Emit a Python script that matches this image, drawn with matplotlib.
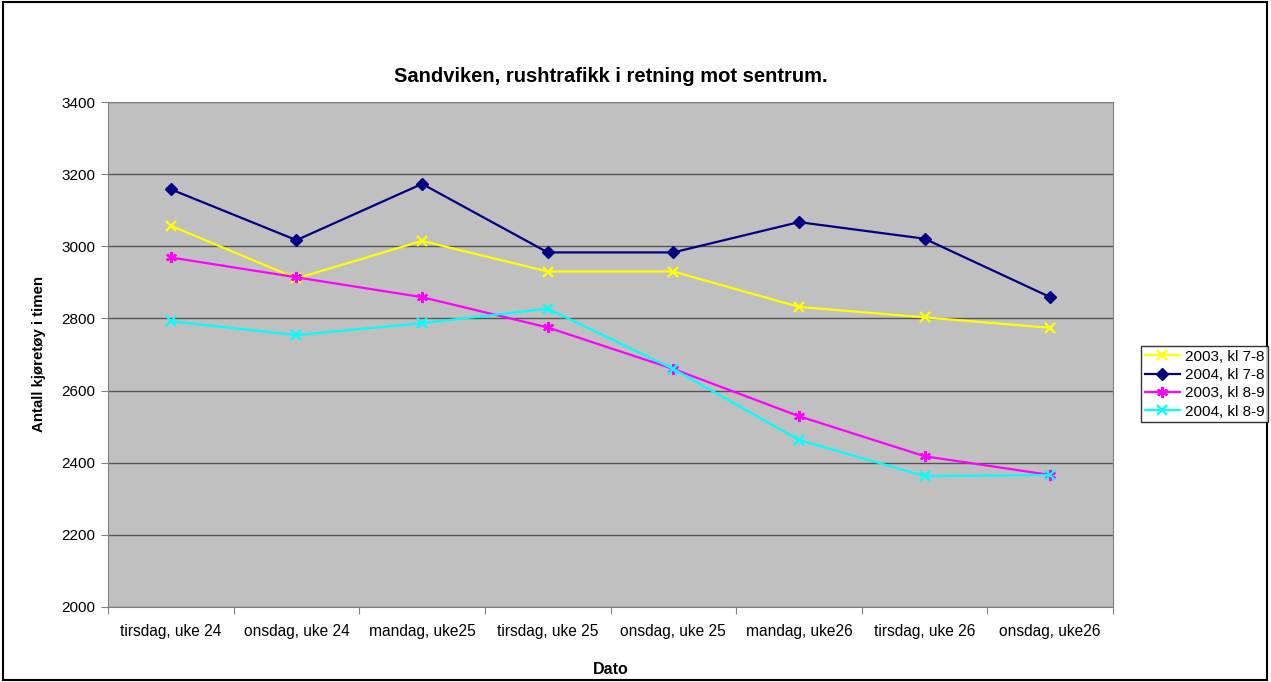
import matplotlib
matplotlib.use("Agg")
import matplotlib.pyplot as plt
from matplotlib.patches import Rectangle
import numpy as np

plt.rcParams['font.family'] = ['Liberation Sans', 'DejaVu Sans']

days = ['tirsdag, uke 24', 'onsdag, uke 24', 'mandag, uke25', 'tirsdag, uke 25',
        'onsdag, uke 25', 'mandag, uke26', 'tirsdag, uke 26', 'onsdag, uke26']
y2003_78 = [3057, 2911, 3015, 2930, 2930, 2832, 2803, 2774]
y2004_78 = [3158, 3017, 3173, 2983, 2983, 3067, 3021, 2859]
y2003_89 = [2969, 2914, 2859, 2775, 2660, 2529, 2418, 2366]
y2004_89 = [2792, 2754, 2787, 2827, 2660, 2463, 2363, 2366]

fig = plt.figure(figsize=(12.71, 6.82), dpi=100)
ax = fig.add_axes([108 / 1271, 1 - 607 / 682, 1005 / 1271, 505 / 682])
ax.set_facecolor('#C0C0C0')

x = np.arange(len(days))
ax.plot(x, y2003_78, color='#FFFF00', lw=1.6, marker='x', ms=7, mew=1.6, label='2003, kl 7-8')
ax.plot(x, y2004_78, color='#000080', lw=1.6, marker='D', ms=6, label='2004, kl 7-8')
ax.plot(x, y2003_89, color='#FF00FF', lw=1.6, marker=(6, 2, 0), ms=8, mew=1.6, label='2003, kl 8-9')
ax.plot(x, y2004_89, color='#00FFFF', lw=1.6, marker='x', ms=7, mew=1.6, label='2004, kl 8-9')

ax.set_xlim(-0.5, len(days) - 0.5)
ax.set_ylim(2000, 3400)
ax.set_yticks(np.arange(2000, 3401, 200))
ax.yaxis.grid(True, color='#555555', lw=1)
ax.set_axisbelow(True)

# tick marks between categories, labels centred on categories
ax.set_xticks(np.arange(-0.5, len(days), 1))
ax.set_xticklabels([])
ax.set_xticks(x, minor=True)
ax.set_xticklabels(days, minor=True, fontsize=11.2)
ax.tick_params(axis='x', which='minor', length=0, pad=12)
ax.tick_params(axis='x', which='major', length=5, color='#808080')
ax.tick_params(axis='y', length=5, color='#808080', labelsize=11, pad=4)

for side in ax.spines:
    ax.spines[side].set_color('#808080')

ax.set_xlabel('Dato', fontsize=11.5, fontweight='bold', labelpad=17)
ax.set_ylabel('Antall kjøretøy i timen', fontsize=10.8, fontweight='bold', labelpad=11)
fig.text(0.5 * (108 + 1113) / 1271, 1 - 77 / 682, 'Sandviken, rushtrafikk i retning mot sentrum.',
         ha='center', va='center', fontsize=14.5, fontweight='bold')

leg = fig.legend(loc='upper left', bbox_to_anchor=(1141 / 1271, 1 - 346 / 682), fontsize=11,
                 frameon=True, fancybox=False, edgecolor='black', handlelength=2.3,
                 borderpad=0.25, labelspacing=0.28, handletextpad=0.3, borderaxespad=0)
leg.get_frame().set_linewidth(1)

fig.patches.append(Rectangle((0.002, 0.003), 0.995, 0.994, transform=fig.transFigure,
                             fill=False, edgecolor='black', lw=1.5))

fig.savefig('out.png', dpi=100)
